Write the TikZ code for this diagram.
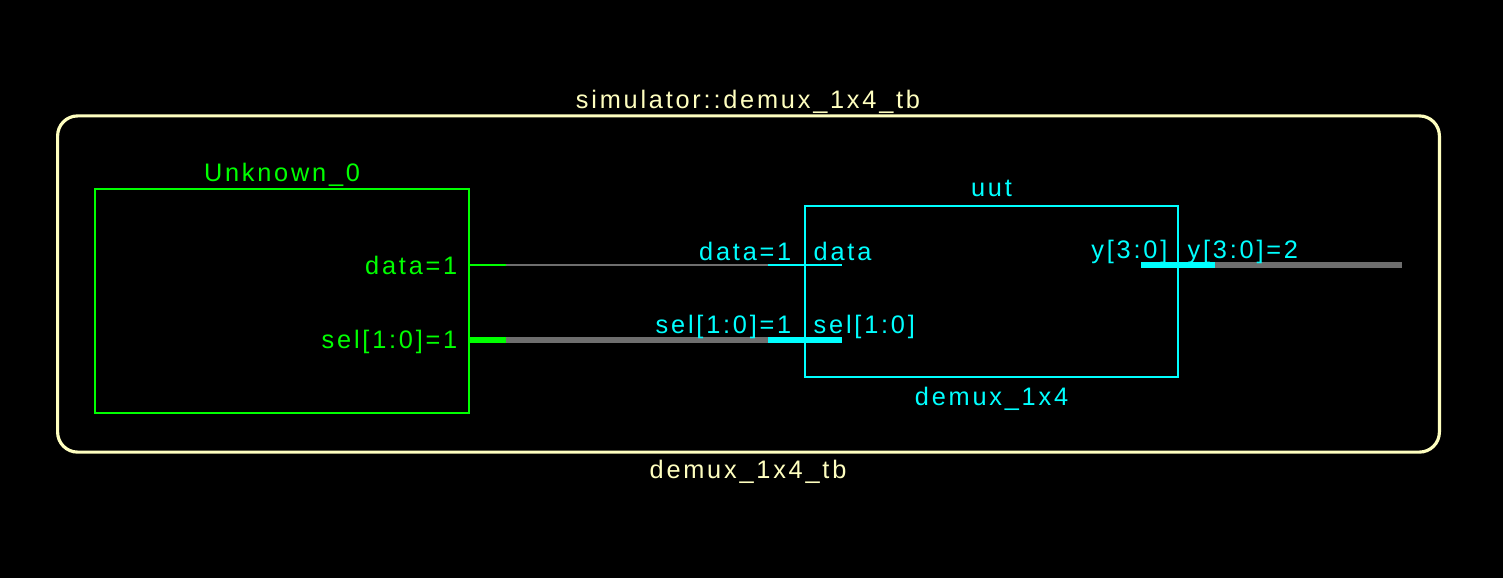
\documentclass[tikz,border=0pt]{standalone}
\usepackage{fontspec}
\setmainfont{Liberation Sans}[LetterSpace=11]
\usepackage{tikz}
\usepackage{xcolor}
\definecolor{frameyel}{HTML}{FFFFC0}
\definecolor{instgreen}{HTML}{00FF00}
\definecolor{uutcyan}{HTML}{00FFFF}
\definecolor{wiregray}{HTML}{6E6E6E}

\begin{document}
\begin{tikzpicture}[x=0.01cm,y=-0.01cm,
  every node/.style={inner sep=0pt,font=\fontsize{7.2}{8}\selectfont},
  blk/.style={draw=#1,line width=0.6pt,minimum width=3.74cm},
  net/.style={line width=0.6pt},
  bus/.style={line width=1.8pt}]
  \fill[black] (0,0) rectangle (1503,578);
  % testbench frame
  \node[draw=frameyel,line width=0.9pt,rounded corners=0.2cm,minimum width=13.81cm,minimum height=3.36cm] (tb) at (748.5,284) {};
  \node[text=frameyel,anchor=base] (tbtop) at (748,108) {simulator::demux\_1x4\_tb};
  \node[text=frameyel,anchor=base] (tbname) at (748,478) {demux\_1x4\_tb};
  % instances
  \node[blk=instgreen,minimum height=2.24cm] (unk) at (282,301) {};
  \node[text=instgreen,anchor=base] (unkname) at (282,181) {Unknown\_0};
  \node[blk=uutcyan,minimum width=3.73cm,minimum height=1.71cm] (uut) at (991.5,291.5) {};
  \node[text=uutcyan,anchor=base] (uutname) at (991.5,196) {uut};
  \node[text=uutcyan,anchor=base] (uuttype) at (991.5,405) {demux\_1x4};
  % pins
  \coordinate (unk-data) at (469,265);
  \coordinate (unk-data-e) at (506,265);
  \coordinate (unk-sel) at (469,340);
  \coordinate (unk-sel-e) at (506,340);
  \coordinate (uut-data-e) at (768,265);
  \coordinate (uut-data) at (842,265);
  \coordinate (uut-sel-e) at (768,340);
  \coordinate (uut-sel) at (842,340);
  \coordinate (uut-y) at (1141,265);
  \coordinate (uut-y-e) at (1215,265);
  \coordinate (y-out) at (1402,265);
  \draw[instgreen,net] (unk-data)--(unk-data-e);
  \draw[instgreen,bus] (unk-sel)--(unk-sel-e);
  \draw[wiregray,net] (unk-data-e)--(uut-data-e);
  \draw[wiregray,bus] (unk-sel-e)--(uut-sel-e);
  \draw[uutcyan,net] (uut-data-e)--(uut-data);
  \draw[uutcyan,bus] (uut-sel-e)--(uut-sel);
  \draw[uutcyan,bus] (uut-y)--(uut-y-e);
  \draw[wiregray,bus] (uut-y-e)--(y-out);
  % pin labels
  \node[text=instgreen,anchor=base east] (l1) at (458,274) {data=1};
  \node[text=instgreen,anchor=base east] (l2) at (458,348) {sel[1:0]=1};
  \node[text=uutcyan,anchor=base east] (l3) at (792,260) {data=1};
  \node[text=uutcyan,anchor=base west] (l4) at (813,260) {data};
  \node[text=uutcyan,anchor=base east] (l5) at (792,333) {sel[1:0]=1};
  \node[text=uutcyan,anchor=base west] (l6) at (813,333) {sel[1:0]};
  \node[text=uutcyan,anchor=base east] (l7) at (1168,258) {y[3:0]};
  \node[text=uutcyan,anchor=base west] (l8) at (1187,258) {y[3:0]=2};
\end{tikzpicture}
\end{document}
